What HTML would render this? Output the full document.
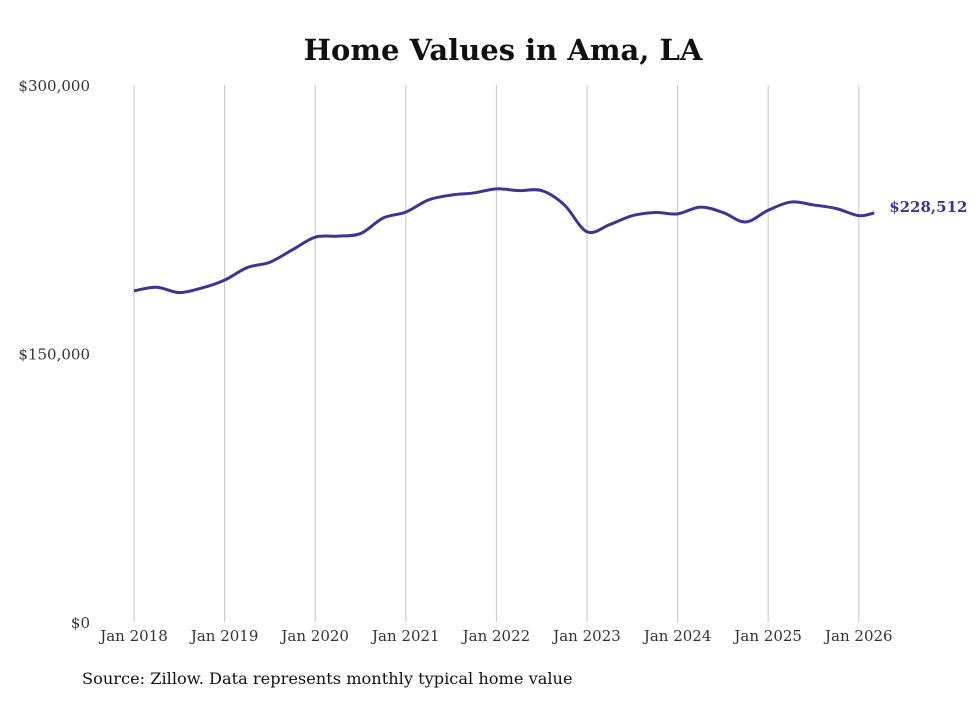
<!DOCTYPE html>
<html><head><meta charset="utf-8"><style>
body{margin:0;background:#fff;width:980px;height:699px;overflow:hidden}
svg text{font-family:"DejaVu Serif","Liberation Serif",serif}
</style></head><body>
<svg width="980" height="699" id="chart">
<text x="503" y="60" text-anchor="middle" font-size="29" font-weight="bold" fill="#111">Home Values in Ama, LA</text>
<g id="grid"></g>
<g id="yaxis"></g>
<g id="xaxis"></g>
<path id="line" fill="none" stroke="#3d3590" stroke-width="3"/>
<text id="endlabel" font-size="15" font-weight="bold" fill="#3d3590"></text>
<text x="82" y="684" font-size="16.2" fill="#111">Source: Zillow. Data represents monthly typical home value</text>
</svg>
<script>
const dates=[2018,2018.25,2018.5,2018.75,2019,2019.25,2019.5,2019.75,2020,2020.25,2020.5,2020.75,2021,2021.25,2021.5,2021.75,2022,2022.25,2022.5,2022.75,2023,2023.25,2023.5,2023.75,2024,2024.25,2024.5,2024.75,2025,2025.25,2025.5,2025.75,2026,2026.17];
const values=[185,187,184,186.6,191,198,201,208,215,215.6,217,225.7,229,235.8,238.5,239.7,242,241,241,233,218,222,227,228.8,228,231.8,228.8,223.5,230,234.6,233,231,227,228.512];
const yTicks=[0,150000,300000];
const yTickLabels=["$0","$150,000","$300,000"];
const xTicks=[2018,2019,2020,2021,2022,2023,2024,2025,2026];
const xTickLabels=["Jan 2018","Jan 2019","Jan 2020","Jan 2021","Jan 2022","Jan 2023","Jan 2024","Jan 2025","Jan 2026"];
const endLabel="$228,512";
const NS="http://www.w3.org/2000/svg";
const xS=d=>134+(d-2018)*90.6;
const yS=v=>622-v/300000*537;
function mk(tag,attrs,parent,txt){const e=document.createElementNS(NS,tag);for(const k in attrs)e.setAttribute(k,attrs[k]);if(txt!=null)e.textContent=txt;parent.appendChild(e);return e;}
const grid=document.getElementById('grid'),ya=document.getElementById('yaxis'),xa=document.getElementById('xaxis');
xTicks.forEach((t,i)=>{
  const l=mk('line',{x1:xS(t),x2:xS(t),y1:85,y2:622,stroke:'#c4c4c4','stroke-width':1},grid);
  
  
  const tx=mk('text',{x:xS(t),y:641,'text-anchor':'middle','font-size':15,fill:'#333'},xa,xTickLabels[i]);
  
  
});
yTicks.forEach((t,i)=>{
  const tx=mk('text',{x:90,y:yS(t)+6,'text-anchor':'end','font-size':15,fill:'#333'},ya,yTickLabels[i]);
  
  
});
const pts=dates.map((d,i)=>[xS(d),yS(values[i]*1000)]);
let p='M'+pts[0][0]+','+pts[0][1];
for(let i=0;i<pts.length-1;i++){
  const p0=pts[Math.max(0,i-1)],p1=pts[i],p2=pts[i+1],p3=pts[Math.min(pts.length-1,i+2)];
  const c1=[p1[0]+(p2[0]-p0[0])/6,p1[1]+(p2[1]-p0[1])/6];
  const c2=[p2[0]-(p3[0]-p1[0])/6,p2[1]-(p3[1]-p1[1])/6];
  p+=`C${c1[0]},${c1[1]} ${c2[0]},${c2[1]} ${p2[0]},${p2[1]}`;
}
document.getElementById('line').setAttribute('d',p);
const last=pts[pts.length-1];
const el=document.getElementById('endlabel');
el.setAttribute('x',last[0]+15);el.setAttribute('y',last[1]-1);el.textContent=endLabel;
</script>
</body></html>
